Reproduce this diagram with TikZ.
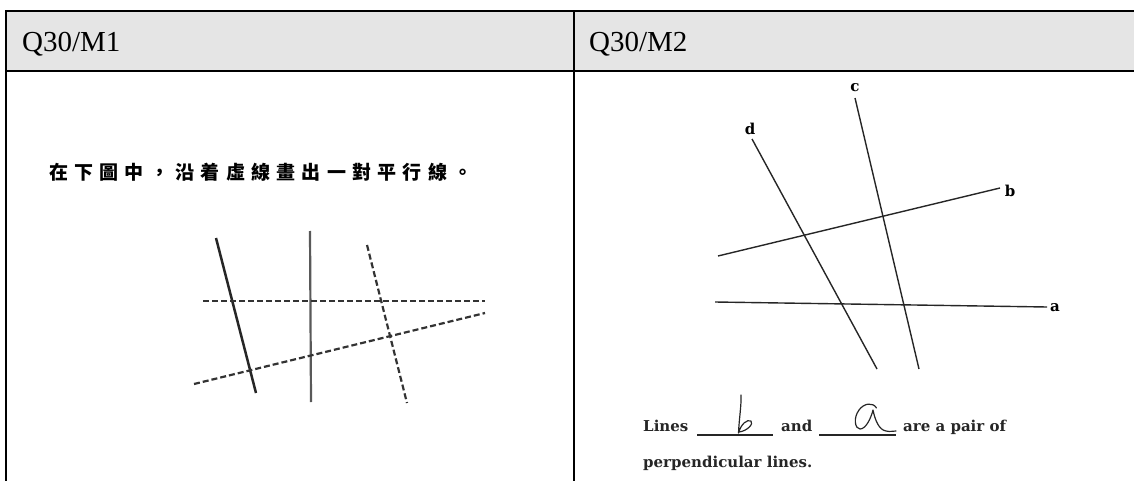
\documentclass[tikz,border=0pt]{standalone}
\usepackage{fontspec}
\setmainfont{Liberation Serif}
\newfontfamily\cjk[LetterSpace=33]{Noto Sans CJK TC}
\newfontfamily\wideserif{DejaVu Serif}
\begin{document}
\begin{tikzpicture}[x=1pt,y=-1pt,
  rule/.style={line width=1.6pt,black},
  head/.style={anchor=base west,inner sep=0pt,font=\fontsize{29}{34}\selectfont},
  scanline/.style={line width=2.2pt,color=black!80},
  dashline/.style={scanline,dash pattern=on 6pt off 3pt},
  geoline/.style={line width=1.4pt,color=black!85},
  lbl/.style={inner sep=0pt,font=\wideserif\fontsize{15}{17}\selectfont\bfseries},
  txt/.style={anchor=base west,inner sep=0pt,font=\wideserif\fontsize{15}{18}\selectfont\bfseries,color=black!85},
  hand/.style={line width=1.2pt,color=black!85,line cap=round,line join=round}]
\useasboundingbox (0,0) rectangle (1134,481);
% table
\fill[black!10] (6,11) rectangle (1134,71);
\draw[rule] (1134,11) -- (6,11) -- (6,481);
\draw[rule] (6,71) -- (1134,71);
\draw[rule] (574,11) -- (574,481);
\node[head] (h1) at (22,52) {Q30/M1};
\node[head] (h2) at (589,52) {Q30/M2};
% left cell
\node[anchor=west,inner sep=0pt,font=\cjk\bfseries\fontsize{19}{21}\selectfont] (q1) at (49,172) {在下圖中，沿着虛線畫出一對平行線。};
\coordinate (p1a) at (216,238); \coordinate (p1b) at (256,393);
\coordinate (p2a) at (310,231); \coordinate (p2b) at (311,402);
\coordinate (p3a) at (367,245); \coordinate (p3b) at (407,403);
\coordinate (ha) at (203,301); \coordinate (hb) at (485,301);
\coordinate (sa) at (194,384); \coordinate (sb) at (485,313);
\draw[scanline,line width=2.5pt,color=black!85] (p1a) -- (p1b);
\draw[scanline,color=black!65] (p2a) -- (p2b);
\draw[dashline] (p3a) -- (p3b);
\draw[dashline] (ha) -- (hb);
\draw[dashline] (sa) -- (sb);
% right cell
\node[lbl] (lc) at (855,88) {c};
\node[lbl] (ld) at (750,129) {d};
\node[lbl] (lb) at (1010,191) {b};
\node[lbl] (la) at (1055,308) {a};
\coordinate (ca) at (855,98); \coordinate (cb) at (919,369);
\coordinate (da) at (752,139); \coordinate (db) at (877,369);
\coordinate (ba) at (718,256); \coordinate (bb) at (1000,188);
\coordinate (aa) at (715,302); \coordinate (ab) at (1047,307);
\draw[geoline] (ca) -- (cb);
\draw[geoline] (da) -- (db);
\draw[geoline] (ba) -- (bb);
\draw[geoline] (aa) -- (ab);
% sentence
\node[txt] (t1) at (643,431) {Lines};
\coordinate (u1a) at (697,435); \coordinate (u1b) at (773,435);
\draw[line width=1.2pt,black!85] (u1a) -- (u1b);
\node[txt] (t2) at (781,431) {and};
\coordinate (u2a) at (819,435); \coordinate (u2b) at (896,435);
\draw[line width=1.2pt,black!85] (u2a) -- (u2b);
\node[txt] (t3) at (903,431) {are a pair of};
\node[txt] (t4) at (643,467) {perpendicular lines.};
% handwritten b
\draw[hand] (741,395) .. controls (741.5,405) and (739,420) .. (738.5,433)
  .. controls (741,424) and (747,419) .. (751,421)
  .. controls (754,424) and (747,431) .. (739,432);
% handwritten a
\draw[hand] (876.5,408) .. controls (873,402) and (864,403) .. (859,410)
  .. controls (853,418) and (855,429) .. (860,429)
  .. controls (866,429) and (871,418) .. (873,410)
  .. controls (875,420) and (879,430) .. (886,431)
  .. controls (890,432) and (893,431) .. (896,431);
\end{tikzpicture}
\end{document}
